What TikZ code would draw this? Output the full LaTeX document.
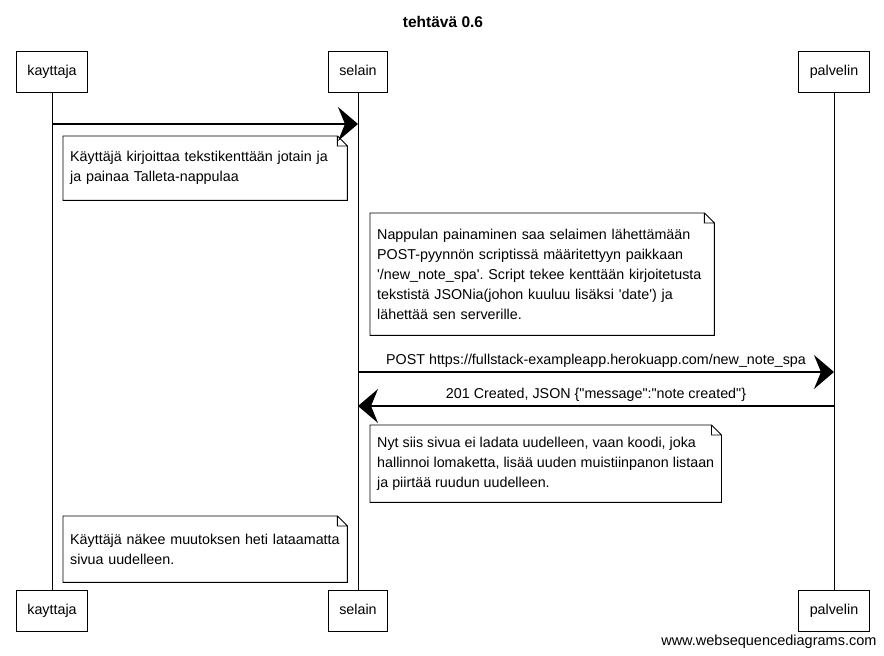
\documentclass[tikz,border=0pt]{standalone}
\usepackage{fontspec}
\setmainfont{Liberation Sans}
\usetikzlibrary{arrows.meta,positioning}
\tikzset{
  actor/.style={draw, line width=0.9pt, minimum height=41pt, inner xsep=11pt, text height=10pt, text depth=3pt},
  note/.style={anchor=north west, align=left, inner xsep=7pt, inner ysep=0pt},
  msg/.style={line width=1.1pt, -{Stealth[length=20pt,width=34pt,inset=7pt]}},
}
\newcommand\notefold[1]{%
  \draw[line width=0.9pt] (#1.north west) -- ([xshift=-10pt]#1.north east) -- ([yshift=-10pt]#1.north east)
    -- (#1.south east) -- (#1.south west) -- cycle
    ([xshift=-10pt]#1.north east) -- ([xshift=-10pt,yshift=-10pt]#1.north east) -- ([yshift=-10pt]#1.north east);}
\frenchspacing
\begin{document}
\begin{tikzpicture}[x=1pt, y=-1pt, font=\fontsize{14.3}{20}\selectfont]
  \useasboundingbox (0,0) rectangle (884,656);
  \node[font=\fontsize{15.5}{18}\selectfont\bfseries] (title) at (443,22) {tehtävä 0.6};
  \node[actor] (kayttaja) at (52,72) {kayttaja};
  \node[actor] (selain) at (358,72) {selain};
  \node[actor] (palvelin) at (834,72) {palvelin};
  \node[actor] (kayttaja2) at (52,611) {kayttaja};
  \node[actor] (selain2) at (358,611) {selain};
  \node[actor] (palvelin2) at (834,611) {palvelin};
  \draw[line width=0.7pt] (kayttaja) -- (kayttaja2);
  \draw[line width=0.7pt] (selain) -- (selain2);
  \draw[line width=0.7pt] (palvelin) -- (palvelin2);
  \path (kayttaja |- 0,124) coordinate (k1) (selain |- 0,124) coordinate (s1)
        (selain |- 0,372) coordinate (s2) (palvelin |- 0,372) coordinate (p2)
        (selain |- 0,406) coordinate (s3) (palvelin |- 0,406) coordinate (p3);
  \draw[msg] (k1) -- (s1);
  \draw[msg] (s2) -- node[above=1pt] {POST https://fullstack-exampleapp.herokuapp.com/new\_note\_spa} (p2);
  \draw[msg] (p3) -- node[above=1pt] {201 Created, JSON \{\textquotedbl message\textquotedbl:\textquotedbl note created\textquotedbl\}} (s3);
  \node[note, text width=270pt, minimum height=64pt] (n1) at (63,136)
    {Käyttäjä kirjoittaa tekstikenttään jotain ja\\ja painaa Talleta-nappulaa};
  \notefold{n1}
  \node[note, text width=330pt, minimum height=122pt] (n2) at (370,213)
    {Nappulan painaminen saa selaimen lähettämään\\POST-pyynnön scriptissä määritettyyn paikkaan\\\textquotesingle/new\_note\_spa\textquotesingle. Script tekee kenttään kirjoitetusta\\tekstistä JSONia(johon kuuluu lisäksi \textquotesingle date\textquotesingle) ja\\lähettää sen serverille.};
  \notefold{n2}
  \node[note, minimum height=77pt] (n3) at (370,425)
    {Nyt siis sivua ei ladata uudelleen, vaan koodi, joka\\hallinnoi lomaketta, lisää uuden muistiinpanon listaan\\ja piirtää ruudun uudelleen.};
  \notefold{n3}
  \node[note, text width=270pt, minimum height=66pt] (n4) at (63,516)
    {Käyttäjä näkee muutoksen heti lataamatta\\sivua uudelleen.};
  \notefold{n4}
  \node[anchor=base east, font=\fontsize{14.5}{16}\selectfont] (credit) at (880,645) {www.websequencediagrams.com};
\end{tikzpicture}
\end{document}
